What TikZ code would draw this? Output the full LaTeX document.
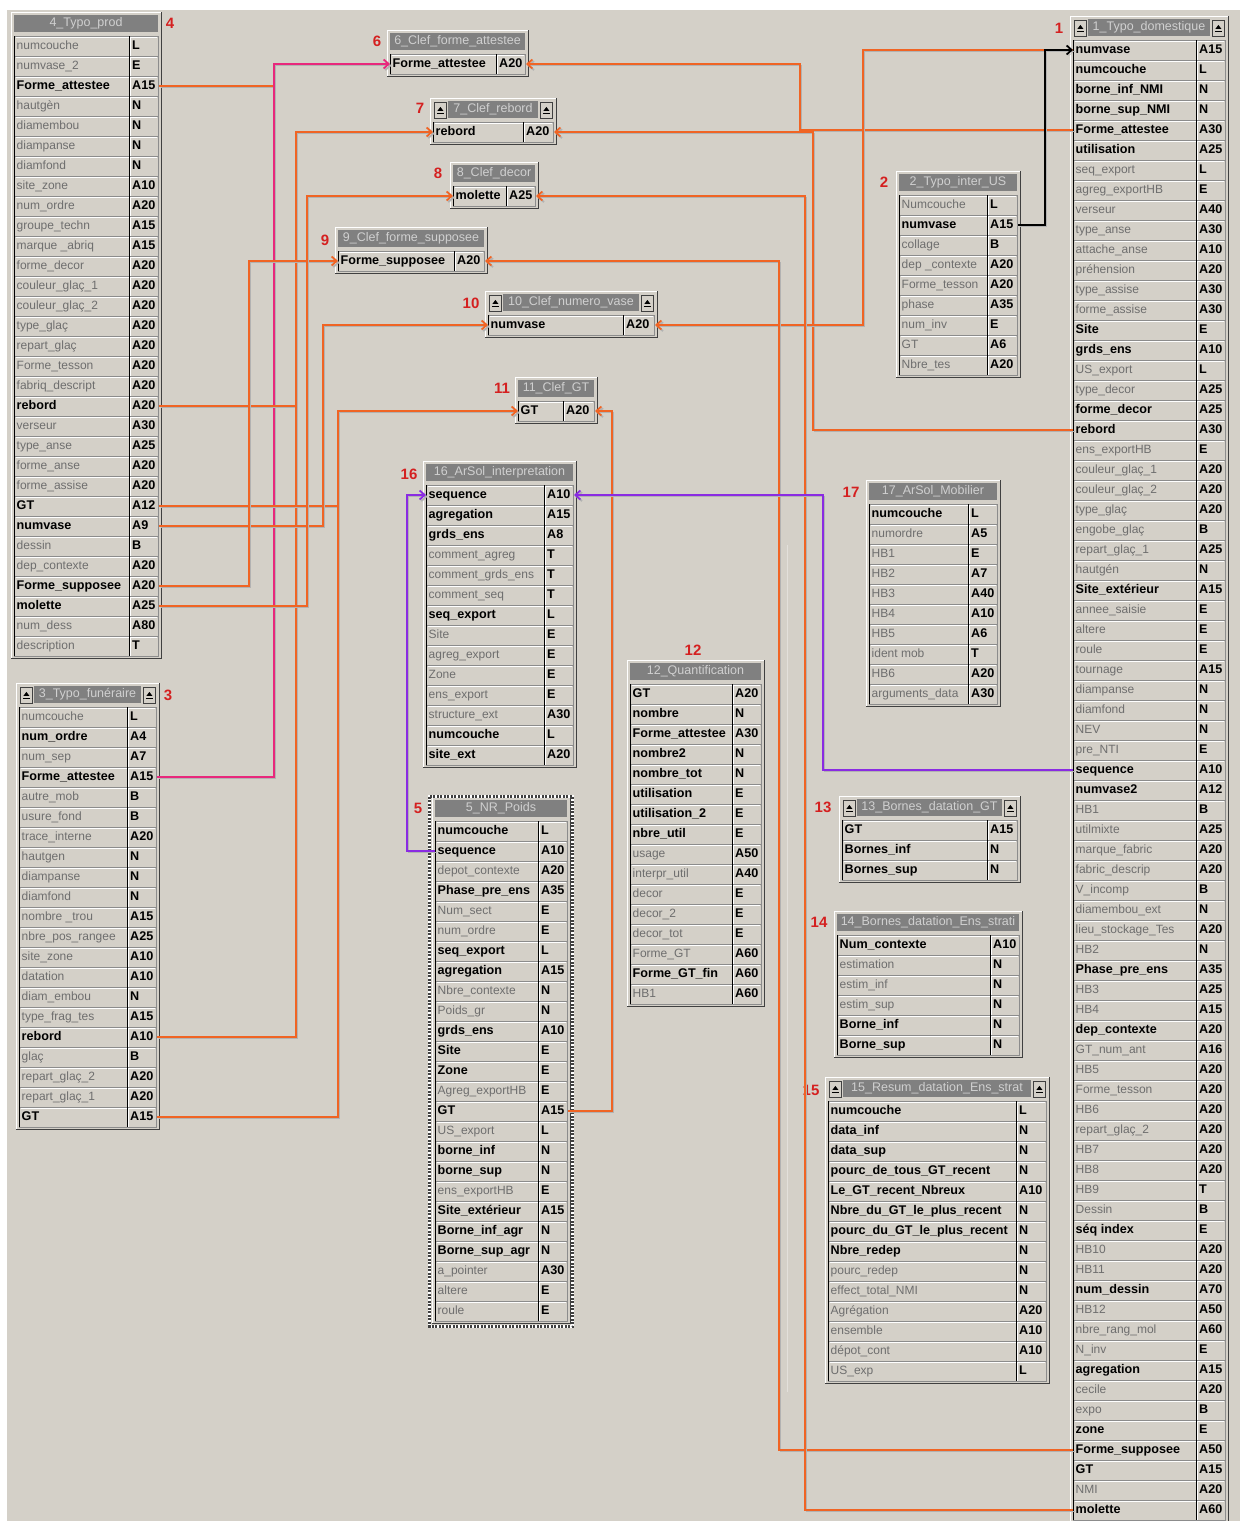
\documentclass[tikz,border=0pt]{standalone}
\usepackage{fontspec}
\setmainfont{Liberation Sans}
\usetikzlibrary{arrows.meta}
\definecolor{bgc}{HTML}{D4D0C8}
\definecolor{titlec}{HTML}{808080}
\definecolor{titletxt}{HTML}{D0D0D0}
\definecolor{txtgray}{HTML}{6E6E6E}
\definecolor{rowline}{HTML}{8C8C8C}
\definecolor{dkc}{HTML}{404040}
\definecolor{orangec}{HTML}{F06424}
\definecolor{pinkc}{HTML}{E8287C}
\definecolor{purplec}{HTML}{8A2BE2}
\definecolor{labred}{HTML}{D42020}
\newcommand\keyfnt{\fontsize{12.6}{14}\selectfont\bfseries}
\tikzset{
  rowbox/.style={rectangle, draw=rowline, fill=bgc, line width=1pt, minimum height=20, inner sep=0pt},
  cellf/.style={font=\fontsize{12}{14}\selectfont, inner sep=0pt, text height=9pt, text depth=2.5pt},
  titlef/.style={font=\fontsize{12.5}{14}\selectfont, text=titletxt, inner sep=0pt},
  btnbox/.style={rectangle, minimum width=12, minimum height=16, fill=bgc, draw=dkc, line width=0.8pt, inner sep=0pt},
  lab/.style={font=\fontsize{15}{17}\selectfont\bfseries, text=labred, inner sep=0pt},
  shd/.style={preaction={draw=black!30, transform canvas={shift={(1.6,1.6)}}}},
  link/.style={line width=2.4pt, shd, -{Straight Barb[length=5pt,width=9pt,line width=1.8pt]}},
  stub/.style={line width=2.4pt, shd},
}
\newcommand\btn[3]{%
  \node[btnbox, anchor=north west] (#1) at (#2,#3) {};
  \fill[black] ([shift={(-3,1)}]#1.center) -- ([shift={(3,1)}]#1.center) -- ([shift={(0,-3)}]#1.center) -- cycle;
  \draw[black, line width=1pt] ([shift={(-3.5,4)}]#1.center) -- ([shift={(3.5,4)}]#1.center);
}
% #1 id, #2 xL, #3 xS, #4 xR, #5 yTop, #6 rows, #7 title, #8 buttons, #9 list
\newcommand\dbtable[9]{%
  \pgfmathsetmacro\tyB{#5+#6*20}%
  \fill[bgc] (#2-3,#5-24) rectangle (#4+4,\tyB+3);
  \draw[white,line width=1pt] (#2-2.5,\tyB+3) -- (#2-2.5,#5-23.5) -- (#4+4,#5-23.5);
  \draw[dkc,line width=1.5pt] (#2-3,\tyB+2.25) -- (#4+3.25,\tyB+2.25) -- (#4+3.25,#5-24);
  \ifnum#8=1
    \fill[titlec] (#2+15,#5-21) rectangle (#4-15,#5-4);
    \btn{#1-bl}{#2+1}{#5-20.5}
    \btn{#1-br}{#4-13}{#5-20.5}
  \else
    \fill[titlec] (#2,#5-21) rectangle (#4,#5-4);
  \fi
  \node[titlef] (#1-title) at ({(#2+#4)/2},#5-12.5) {#7};
  \foreach[count=\i] \nm/\ty/\bb in {#9}{%
    \pgfmathsetmacro\yc{#5+(\i-1)*20+10}
    \node[rowbox, minimum width={#4-#2}, anchor=west] (#1-r\i) at (#2,\yc) {};
    \draw[white,line width=1pt] (#2+1.5,\yc-8.6) -- (#4-1,\yc-8.6);
    \draw[black,line width=1.3pt] (#2+0.7,\yc-10) -- (#2+0.7,\yc+10);
    \draw[black,line width=1pt] (#3,\yc-10) -- (#3,\yc+10);
    \draw[white,line width=1pt] (#3+1.5,\yc-8) -- (#3+1.5,\yc+10);
    \node[cellf, anchor=west] (#1-n\i) at (#2+2.5,\yc) {\ifnum\bb=1 \keyfnt\nm\else\color{txtgray}\nm\fi};
    \node[cellf, anchor=west] (#1-t\i) at (#3+3,\yc) {\keyfnt\ty};
  }
}
\begin{document}
\catcode`\_=12
\begin{tikzpicture}[x=1pt,y=-1pt]
\useasboundingbox (0,0) rectangle (1240,1521);
\fill[white] (0,0) rectangle (1240,1521);
\fill[bgc] (7,10) rectangle (1240,1521);
\draw[white!35!bgc, line width=1pt] (787,545) -- (787,1392);

% ---------- tables ----------
\dbtable{t4}{14}{129}{158}{36}{31}{4_Typo_prod}{0}{numcouche/L/0, numvase_2/E/0, Forme_attestee/A15/1, hautgèn/N/0, diamembou/N/0, diampanse/N/0, diamfond/N/0, site_zone/A10/0, num_ordre/A20/0, groupe_techn/A15/0, marque _abriq/A15/0, forme_decor/A20/0, couleur_glaç_1/A20/0, couleur_glaç_2/A20/0, type_glaç/A20/0, repart_glaç/A20/0, Forme_tesson/A20/0, fabriq_descript/A20/0, rebord/A20/1, verseur/A30/0, type_anse/A25/0, forme_anse/A20/0, forme_assise/A20/0, GT/A12/1, numvase/A9/1, dessin/B/0, dep_contexte/A20/0, Forme_supposee/A20/1, molette/A25/1, num_dess/A80/0, description/T/0}

\dbtable{t3}{19}{127}{156}{707}{21}{3_Typo_funéraire}{1}{numcouche/L/0, num_ordre/A4/1, num_sep/A7/0, Forme_attestee/A15/1, autre_mob/B/0, usure_fond/B/0, trace_interne/A20/0, hautgen/N/0, diampanse/N/0, diamfond/N/0, nombre _trou/A15/0, nbre_pos_rangee/A25/0, site_zone/A10/0, datation/A10/0, diam_embou/N/0, type_frag_tes/A15/0, rebord/A10/1, glaç/B/0, repart_glaç_2/A20/0, repart_glaç_1/A20/0, GT/A15/1}

\dbtable{t6}{390}{496}{525}{54}{1}{6_Clef_forme_attestee}{0}{Forme_attestee/A20/1}
\dbtable{t7}{433}{523}{553}{122}{1}{7_Clef_rebord}{1}{rebord/A20/1}
\dbtable{t8}{453}{506}{535}{186}{1}{8_Clef_decor}{0}{molette/A25/1}
\dbtable{t9}{338}{454}{484}{251}{1}{9_Clef_forme_supposee}{0}{Forme_supposee/A20/1}
\dbtable{t10}{488}{623}{654}{315}{1}{10_Clef_numero_vase}{1}{numvase/A20/1}
\dbtable{t11}{518}{563}{594}{401}{1}{11_Clef_GT}{0}{GT/A20/1}

\dbtable{t16}{426}{544}{573}{485}{14}{16_ArSol_interpretation}{0}{sequence/A10/1, agregation/A15/1, grds_ens/A8/1, comment_agreg/T/0, comment_grds_ens/T/0, comment_seq/T/0, seq_export/L/1, Site/E/0, agreg_export/E/0, Zone/E/0, ens_export/E/0, structure_ext/A30/0, numcouche/L/1, site_ext/A20/1}

\draw[white, line width=3pt] (429.5,796.5) rectangle (572.5,1326.5);
\dbtable{t5}{435}{538}{567}{821}{25}{5_NR_Poids}{0}{numcouche/L/1, sequence/A10/1, depot_contexte/A20/0, Phase_pre_ens/A35/1, Num_sect/E/0, num_ordre/E/0, seq_export/L/1, agregation/A15/1, Nbre_contexte/N/0, Poids_gr/N/0, grds_ens/A10/1, Site/E/1, Zone/E/1, Agreg_exportHB/E/0, GT/A15/1, US_export/L/0, borne_inf/N/1, borne_sup/N/1, ens_exportHB/E/0, Site_extérieur/A15/1, Borne_inf_agr/N/1, Borne_sup_agr/N/1, a_pointer/A30/0, altere/E/0, roule/E/0}
\draw[dkc, line width=3pt, dash pattern=on 2pt off 1.5pt] (429.5,796.5) rectangle (572.5,1326.5);

\dbtable{t12}{630}{732}{761}{684}{16}{12_Quantification}{0}{GT/A20/1, nombre/N/1, Forme_attestee/A30/1, nombre2/N/1, nombre_tot/N/1, utilisation/E/1, utilisation_2/E/1, nbre_util/E/1, usage/A50/0, interpr_util/A40/0, decor/E/0, decor_2/E/0, decor_tot/E/0, Forme_GT/A60/0, Forme_GT_fin/A60/1, HB1/A60/0}

\dbtable{t2}{899}{987}{1017}{195}{9}{2_Typo_inter_US}{0}{Numcouche/L/0, numvase/A15/1, collage/B/0, dep _contexte/A20/0, Forme_tesson/A20/0, phase/A35/0, num_inv/E/0, GT/A6/0, Nbre_tes/A20/0}

\dbtable{t17}{869}{968}{997}{504}{10}{17_ArSol_Mobilier}{0}{numcouche/L/1, numordre/A5/0, HB1/E/0, HB2/A7/0, HB3/A40/0, HB4/A10/0, HB5/A6/0, ident mob/T/0, HB6/A20/0, arguments_data/A30/0}

\dbtable{t13}{842}{987}{1017}{820}{3}{13_Bornes_datation_GT}{1}{GT/A15/1, Bornes_inf/N/1, Bornes_sup/N/1}

\dbtable{t14}{837}{990}{1019}{935}{6}{14_Bornes_datation_Ens_strati}{0}{Num_contexte/A10/1, estimation/N/0, estim_inf/N/0, estim_sup/N/0, Borne_inf/N/1, Borne_sup/N/1}

\dbtable{t15}{828}{1016}{1046}{1101}{14}{15_Resum_datation_Ens_strat}{1}{numcouche/L/1, data_inf/N/1, data_sup/N/1, pourc_de_tous_GT_recent/N/1, Le_GT_recent_Nbreux/A10/1, Nbre_du_GT_le_plus_recent/N/1, pourc_du_GT_le_plus_recent/N/1, Nbre_redep/N/1, pourc_redep/N/0, effect_total_NMI/N/0, Agrégation/A20/0, ensemble/A10/0, dépot_cont/A10/0, US_exp/L/0}

\dbtable{t1}{1073}{1196}{1225}{40}{74}{1_Typo_domestique}{1}{numvase/A15/1, numcouche/L/1, borne_inf_NMI/N/1, borne_sup_NMI/N/1, Forme_attestee/A30/1, utilisation/A25/1, seq_export/L/0, agreg_exportHB/E/0, verseur/A40/0, type_anse/A30/0, attache_anse/A10/0, préhension/A20/0, type_assise/A30/0, forme_assise/A30/0, Site/E/1, grds_ens/A10/1, US_export/L/0, type_decor/A25/0, forme_decor/A25/1, rebord/A30/1, ens_exportHB/E/0, couleur_glaç_1/A20/0, couleur_glaç_2/A20/0, type_glaç/A20/0, engobe_glaç/B/0, repart_glaç_1/A25/0, hautgén/N/0, Site_extérieur/A15/1, annee_saisie/E/0, altere/E/0, roule/E/0, tournage/A15/0, diampanse/N/0, diamfond/N/0, NEV/N/0, pre_NTI/E/0, sequence/A10/1, numvase2/A12/1, HB1/B/0, utilmixte/A25/0, marque_fabric/A20/0, fabric_descrip/A20/0, V_incomp/B/0, diamembou_ext/N/0, lieu_stockage_Tes/A20/0, HB2/N/0, Phase_pre_ens/A35/1, HB3/A25/0, HB4/A15/0, dep_contexte/A20/1, GT_num_ant/A16/0, HB5/A20/0, Forme_tesson/A20/0, HB6/A20/0, repart_glaç_2/A20/0, HB7/A20/0, HB8/A20/0, HB9/T/0, Dessin/B/0, séq index/E/1, HB10/A20/0, HB11/A20/0, num_dessin/A70/1, HB12/A50/0, nbre_rang_mol/A60/0, N_inv/E/0, agregation/A15/1, cecile/A20/0, expo/B/0, zone/E/1, Forme_supposee/A50/1, GT/A15/1, NMI/A20/0, molette/A60/1}

% ---------- labels ----------
\node[lab] (L4) at (170,23) {4};
\node[lab] (L3) at (168,695) {3};
\node[lab] (L6) at (377,41) {6};
\node[lab] (L7) at (420,108) {7};
\node[lab] (L8) at (438,173) {8};
\node[lab] (L9) at (325,240) {9};
\node[lab] (L10) at (471,303) {10};
\node[lab] (L11) at (502,388) {11};
\node[lab] (L16) at (409,474) {16};
\node[lab] (L5) at (418,808) {5};
\node[lab] (L12) at (693,650) {12};
\node[lab] (L2) at (884,182) {2};
\node[lab] (L1) at (1059,28) {1};
\node[lab] (L17) at (851,492) {17};
\node[lab] (L13) at (823,807) {13};
\node[lab] (L14) at (819,922) {14};
\node[lab] (L15) at (811,1090) {15};

% ---------- routing columns ----------
\coordinate (xPk) at (274,0);
\coordinate (xA) at (249,0);
\coordinate (xB) at (296,0);
\coordinate (xC) at (307,0);
\coordinate (xD) at (323,0);
\coordinate (xE) at (338,0);
\coordinate (xF) at (407,0);
\coordinate (xG) at (612,0);
\coordinate (xH) at (779,0);
\coordinate (xI) at (805,0);
\coordinate (xJ) at (800,0);
\coordinate (xK) at (813,0);
\coordinate (xL) at (823,0);
\coordinate (xM) at (863,0);
\coordinate (xN) at (1045,0);

% ---------- connectors ----------
\draw[stub, orangec] (t4-r3.east) -- (t4-r3.east -| xPk);
\draw[link, pinkc] (t3-r4.east) -- (t3-r4.east -| xPk) -- (xPk |- t6-r1.west) -- (t6-r1.west);
\draw[stub, orangec] (t4-r19.east) -- (t4-r19.east -| xB);
\draw[link, orangec] (t3-r17.east) -- (t3-r17.east -| xB) -- (xB |- t7-r1.west) -- (t7-r1.west);
\draw[stub, orangec] (t4-r24.east) -- (t4-r24.east -| xE);
\draw[link, orangec] (t3-r21.east) -- (t3-r21.east -| xE) -- (xE |- t11-r1.west) -- (t11-r1.west);
\draw[link, orangec] (t4-r25.east) -- (t4-r25.east -| xD) -- (xD |- t10-r1.west) -- (t10-r1.west);
\draw[link, orangec] (t4-r28.east) -- (t4-r28.east -| xA) -- (xA |- t9-r1.west) -- (t9-r1.west);
\draw[link, orangec] (t4-r29.east) -- (t4-r29.east -| xC) -- (xC |- t8-r1.west) -- (t8-r1.west);

\draw[link, orangec] (t1-r5.west) -- (t1-r5.west -| xJ) -- (xJ |- t6-r1.east) -- (t6-r1.east);
\draw[link, orangec] (t1-r20.west) -- (t1-r20.west -| xK) -- (xK |- t7-r1.east) -- (t7-r1.east);
\draw[link, orangec] (t1-r1.west) -- (t1-r1.west -| xM) -- (xM |- t10-r1.east) -- (t10-r1.east);
\draw[link, orangec] (t1-r71.west) -- (t1-r71.west -| xH) -- (xH |- t9-r1.east) -- (t9-r1.east);
\draw[link, orangec] (t1-r74.west) -- (t1-r74.west -| xI) -- (xI |- t8-r1.east) -- (t8-r1.east);
\draw[link, orangec] (t5-r15.east) -- (t5-r15.east -| xG) -- (xG |- t11-r1.east) -- (t11-r1.east);

\draw[link, purplec] (t1-r37.west) -- (t1-r37.west -| xL) -- (xL |- t16-r1.east) -- (t16-r1.east);
\draw[link, purplec] (t5-r2.west) -- (t5-r2.west -| xF) -- (xF |- t16-r1.west) -- (t16-r1.west);

\draw[link, black, line width=1.8pt] (t2-r2.east) -- (t2-r2.east -| xN) -- (xN |- t1-r1.west) -- (t1-r1.west);
\end{tikzpicture}
\end{document}
